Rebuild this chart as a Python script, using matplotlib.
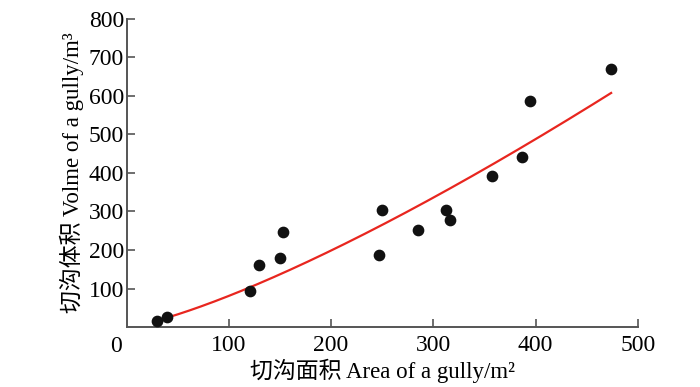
import numpy as np
import matplotlib
matplotlib.use("Agg")
from matplotlib import pyplot as plt

# fonts: Times-like for latin, CJK fallback for the chinese characters
plt.rcParams['font.family'] = ['Liberation Serif', 'Noto Sans CJK SC']

# data
area = [30, 39, 121, 129, 150, 153, 247, 250, 285, 312, 316, 357, 387, 395, 474]
volume = [15, 25, 93, 162, 179, 246, 188, 303, 253, 303, 279, 393, 441, 588, 669]

# fitted power curve V = a * A^b
coef_a = 0.207
coef_b = 1.296
fit_start = 30
fit_end = 474

x_ticks = [100, 200, 300, 400, 500]
y_ticks = [100, 200, 300, 400, 500, 600, 700, 800]

fig = plt.figure(figsize=(7, 3.87), dpi=100)
ax = fig.add_axes([0.181, 0.155, 0.73, 0.796])

xx = np.linspace(fit_start, fit_end, 200)
ax.plot(xx, coef_a * xx ** coef_b, color='#e8261f', lw=1.6, zorder=2)
ax.scatter(area, volume, s=55, color='#111111', zorder=3)

ax.set_xlim(0, 500)
ax.set_ylim(0, 800)
ax.set_xticks(x_ticks)
ax.set_yticks(y_ticks)

for s in ['top', 'right']:
    ax.spines[s].set_visible(False)
for s in ['left', 'bottom']:
    ax.spines[s].set_color('#555555')
    ax.spines[s].set_linewidth(1.4)

ax.tick_params(direction='in', length=6, width=1.2, color='#555555', labelsize=17)
ax.tick_params(axis='y', pad=2)
ax.tick_params(axis='x', pad=6)
# shared origin label
ax.text(-0.02, -0.03, '0', transform=ax.transAxes, fontsize=17, ha='center', va='top')

ax.set_xlabel('切沟面积 Area of a gully/m²', fontsize=16.5, labelpad=2)
ax.set_ylabel('切沟体积 Volme of a gully/m³', fontsize=16.5, labelpad=3)

fig.savefig('out.png', dpi=100)
